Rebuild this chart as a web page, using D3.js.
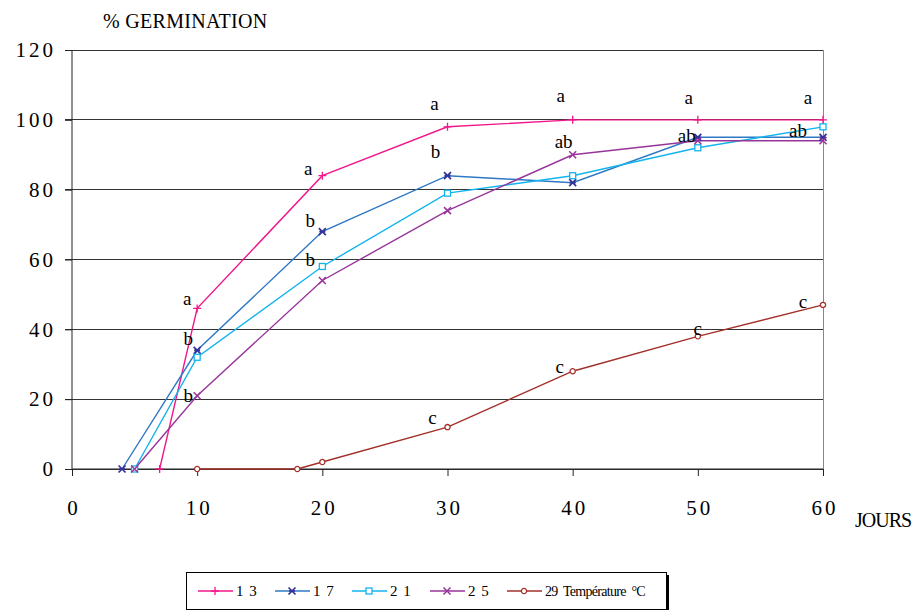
<!DOCTYPE html>
<html>
<head>
<meta charset="utf-8">
<script src="https://cdn.jsdelivr.net/npm/d3@7"></script>
<style>
  html, body { margin: 0; padding: 0; background: #fff; }
  svg { display: block; }
</style>
</head>
<body>
<svg id="chart" width="916" height="610"></svg>
<script>
// Germination (%) over days, per temperature (°C)
const xTicks = [0, 10, 20, 30, 40, 50, 60];
const yTicks = [0, 20, 40, 60, 80, 100, 120];

const days13 = [7, 10, 20, 30, 40, 50, 60];
const germ13 = [0, 46, 84, 98, 100, 100, 100];
const days17 = [4, 10, 20, 30, 40, 50, 60];
const germ17 = [0, 34, 68, 84, 82, 95, 95];
const days21 = [5, 10, 20, 30, 40, 50, 60];
const germ21 = [0, 32, 58, 79, 84, 92, 98];
const days25 = [5, 10, 20, 30, 40, 50, 60];
const germ25 = [0, 21, 54, 74, 90, 94, 94];
const days29 = [10, 18, 20, 30, 40, 50, 60];
const germ29 = [0, 0, 2, 12, 28, 38, 47];

const seriesNames = ["1 3", "1 7", "2 1", "2 5", "29\u00A0 Température\u00A0 °C"];

// Significance letters, anchored to the point they qualify
const letterDays = [10, 20, 30, 40, 50, 60, 10, 20, 30, 10, 20, 40, 50, 60, 30, 40, 50, 60];
const letterVals = [46, 84, 98, 100, 100, 100, 34, 68, 84, 21, 58, 90, 95, 95, 12, 28, 38, 47];
const letterText = ["a", "a", "a", "a", "a", "a", "b", "b", "b", "b", "b", "ab", "ab", "ab", "c", "c", "c", "c"];

const serif = "Liberation Serif";

const svg = d3.select("#chart");
const x = d3.scaleLinear().domain([0, 60]).range([72, 823]);
const y = d3.scaleLinear().domain([0, 120]).range([469, 50]);

// Horizontal gridlines
svg.append("g").selectAll("line").data(yTicks).join("line")
  .attr("x1", x(0) - 7).attr("x2", x(60))
  .attr("y1", d => y(d)).attr("y2", d => y(d))
  .attr("stroke", "#333").attr("stroke-width", 1)
  .attr("shape-rendering", "crispEdges");

// Right border of the plot area
svg.append("line")
  .attr("x1", x(60)).attr("x2", x(60)).attr("y1", y(120)).attr("y2", y(0))
  .attr("stroke", "#888").attr("shape-rendering", "crispEdges");

// Y axis
const yAxis = d3.axisLeft(y).tickValues(yTicks).tickSize(7).tickPadding(12);
const gy = svg.append("g").attr("transform", `translate(${x(0)},0)`).call(yAxis);
gy.attr("font-family", serif).attr("font-size", 21);
gy.select(".domain").attr("stroke", "#222").attr("d", `M-0,${y(120)}V${y(0)}`);
gy.selectAll(".tick line").attr("stroke", "#222");
gy.selectAll(".tick text")
  .style("font-family", serif).style("font-size", "21px")
  .attr("letter-spacing", 3).attr("fill", "#000").attr("dx", 3);

// X axis
const xAxis = d3.axisBottom(x).tickValues(xTicks).tickSize(7).tickPadding(24);
const gx = svg.append("g").attr("transform", `translate(0,${y(0)})`).call(xAxis);
gx.attr("font-family", serif).attr("font-size", 21);
gx.select(".domain").attr("stroke", "#222").attr("d", `M${x(0)},0H${x(60)}`);
gx.selectAll(".tick line").attr("stroke", "#222");
gx.selectAll(".tick text")
  .style("font-family", serif).style("font-size", "21px")
  .attr("letter-spacing", 3).attr("fill", "#000").attr("dx", 1.5);

// Axis titles
svg.append("text").attr("x", 103).attr("y", 28).style("font-family", serif)
  .style("font-size", "20px").attr("letter-spacing", 0.3).text("% GERMINATION");
svg.append("text").attr("x", 855).attr("y", 527).style("font-family", serif)
  .style("font-size", "20px").attr("letter-spacing", -1).text("JOURS");

// Series
const series = [
  { name: seriesNames[0], days: days13, vals: germ13, line: "#F0188C", mark: "#F0188C", shape: "plus" },
  { name: seriesNames[1], days: days17, vals: germ17, line: "#2E78C4", mark: "#333399", shape: "star" },
  { name: seriesNames[2], days: days21, vals: germ21, line: "#12B4EE", mark: "#12B4EE", shape: "square" },
  { name: seriesNames[3], days: days25, vals: germ25, line: "#98359A", mark: "#98359A", shape: "cross" },
  { name: seriesNames[4], days: days29, vals: germ29, line: "#A3302A", mark: "#A3302A", shape: "circle" }
];

function drawMarker(g, shape, color) {
  if (shape === "plus") {
    g.append("path").attr("d", "M-4,0H4M0,-4V4").attr("stroke", color).attr("stroke-width", 1.3);
  } else if (shape === "cross") {
    g.append("path").attr("d", "M-3.5,-3.5L3.5,3.5M-3.5,3.5L3.5,-3.5").attr("stroke", color).attr("stroke-width", 1.5);
  } else if (shape === "star") {
    g.append("path").attr("d", "M-3.5,-3.5L3.5,3.5M-3.5,3.5L3.5,-3.5M-3,0H3").attr("stroke", color).attr("stroke-width", 1.7);
  } else if (shape === "square") {
    g.append("rect").attr("x", -3).attr("y", -3).attr("width", 6).attr("height", 6)
      .attr("fill", "#fff").attr("stroke", color).attr("stroke-width", 1.3);
  } else if (shape === "circle") {
    g.append("circle").attr("r", 2.6).attr("fill", "#fff").attr("stroke", color).attr("stroke-width", 1.3);
  }
}

const line = d3.line().x(d => x(d[0])).y(d => y(d[1]));
series.forEach(s => {
  const pts = s.days.map((d, i) => [d, s.vals[i]]);
  svg.append("path").datum(pts).attr("d", line)
    .attr("fill", "none").attr("stroke", s.line).attr("stroke-width", 1.4);
});
series.forEach(s => {
  s.days.forEach((d, i) => {
    const g = svg.append("g").attr("transform", `translate(${x(d)},${y(s.vals[i])})`);
    drawMarker(g, s.shape, s.mark);
  });
});

// Letter placement relative to the anchoring point (dx, baseline dy)
const letterOffsets = [
  [-10, -3], [-14, -1], [-13, -17], [-12, -18], [-9, -16], [-15, -16],
  [-9, -5], [-12, -5], [-12, -18], [-9, 6], [-12, 0], [-9, -7], [-11, 5], [-25, 0],
  [-15, -3], [-13, 2], [0, -1], [-20, 3]
];
svg.append("g").selectAll("text").data(letterText).join("text")
  .attr("x", (d, i) => x(letterDays[i]) + letterOffsets[i][0])
  .attr("y", (d, i) => y(letterVals[i]) + letterOffsets[i][1])
  .attr("text-anchor", "middle").style("font-family", serif)
  .style("font-size", "19px").attr("fill", "#000")
  .text(d => d);

// Legend
const lg = svg.append("g");
lg.append("rect").attr("x", 189).attr("y", 575).attr("width", 480).attr("height", 37).attr("fill", "#000");
lg.append("rect").attr("x", 186.5).attr("y", 572.5).attr("width", 480).attr("height", 37)
  .attr("fill", "#fff").attr("stroke", "#000").attr("stroke-width", 1);
const legendX = [198, 275, 352, 430, 507];
series.forEach((s, i) => {
  const lx = legendX[i];
  lg.append("line").attr("x1", lx).attr("x2", lx + 35).attr("y1", 591).attr("y2", 591)
    .attr("stroke", s.line).attr("stroke-width", 1.4);
  drawMarker(lg.append("g").attr("transform", `translate(${lx + 17},591)`), s.shape, s.mark);
  lg.append("text").attr("x", lx + 38).attr("y", 596).style("font-family", serif)
    .style("font-size", i === 4 ? "14px" : "15px").attr("letter-spacing", i === 4 ? -0.7 : 1)
    .text(s.name);
});
</script>
</body>
</html>
